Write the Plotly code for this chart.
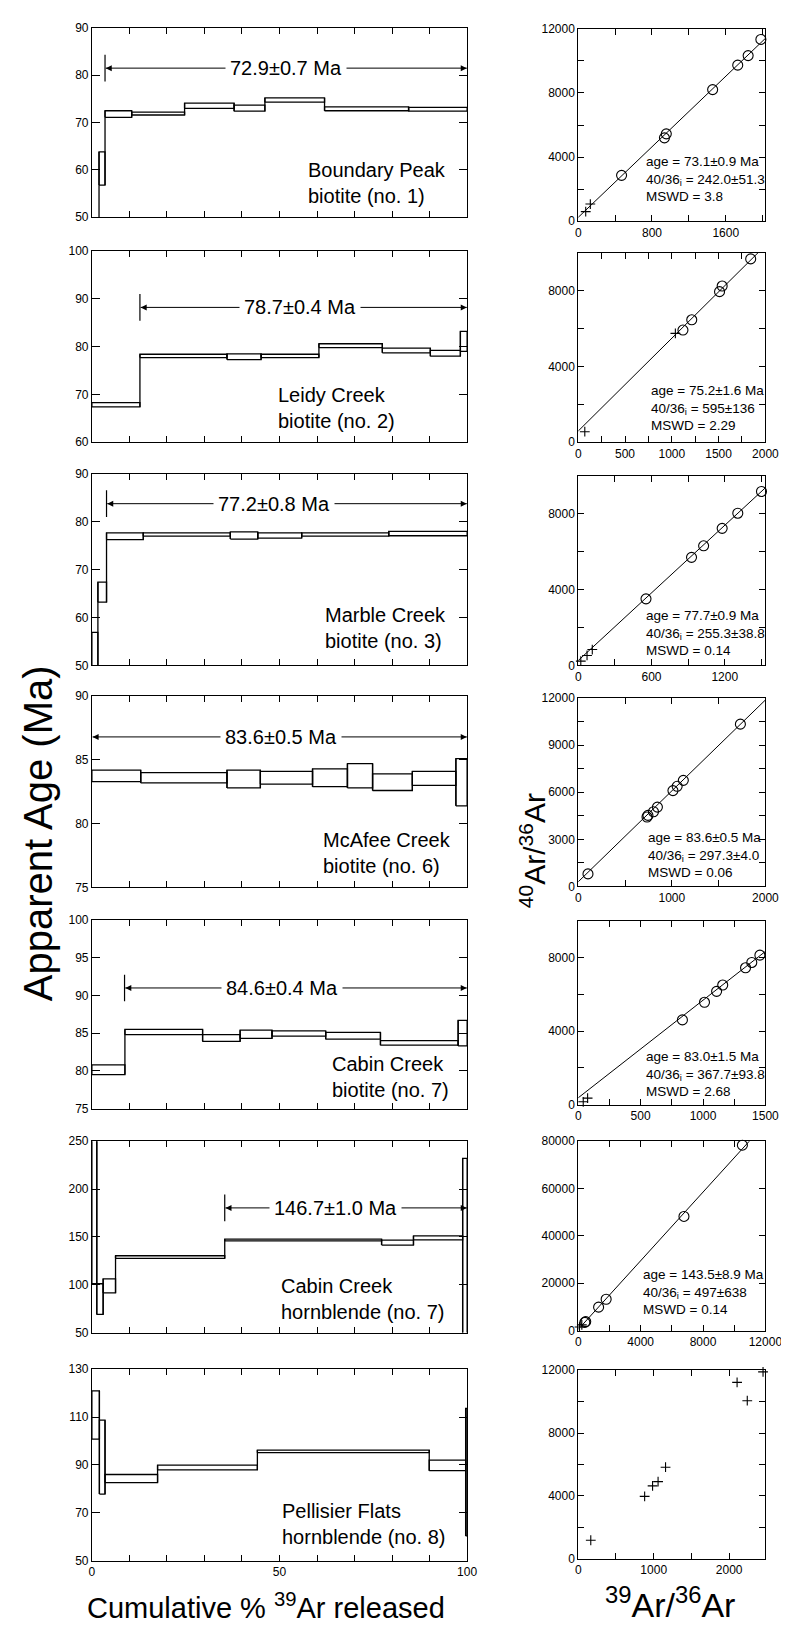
import plotly.graph_objects as go

FONT = "Liberation Sans, Arial, Helvetica, sans-serif"
W, H = 789, 1627

# ---------------- Age spectra (cumulative % 39Ar, apparent age Ma) ----------------
spec1_edges = [0, 1.9, 3.5, 10.6, 24.7, 37.9, 46.1, 62.0, 84.4, 100]
spec1_lo = [40, 56.8, 71.1, 71.6, 73.0, 72.4, 74.3, 72.5, 72.4]
spec1_hi = [45, 63.8, 72.5, 72.2, 74.1, 73.7, 75.2, 73.3, 73.2]

spec2_edges = [0, 12.8, 36.0, 45.1, 60.5, 77.4, 90.2, 98.2, 100]
spec2_lo = [67.4, 77.7, 77.3, 77.7, 79.8, 78.7, 78.0, 79.0]
spec2_hi = [68.3, 78.4, 78.5, 78.4, 80.6, 79.7, 79.2, 83.2]

spec3_edges = [0, 1.6, 3.9, 13.7, 36.9, 44.2, 55.9, 79.1, 100]
spec3_lo = [43.0, 63.2, 76.3, 77.0, 76.4, 76.6, 77.0, 77.1]
spec3_hi = [56.9, 67.4, 77.7, 77.7, 77.9, 77.7, 77.7, 78.0]

spec4_edges = [0, 13.0, 36.0, 44.9, 58.8, 68.1, 74.8, 85.4, 97.0, 100]
spec4_lo = [83.3, 83.2, 82.8, 83.1, 82.9, 82.8, 82.6, 83.0, 81.4]
spec4_hi = [84.2, 84.0, 84.2, 84.1, 84.3, 84.7, 83.9, 84.1, 85.1]

spec5_edges = [0, 8.8, 29.5, 39.5, 48.0, 62.3, 76.9, 97.6, 100]
spec5_lo = [79.5, 84.8, 83.9, 84.3, 84.6, 84.2, 83.4, 83.3]
spec5_hi = [80.8, 85.5, 84.8, 85.4, 85.3, 85.1, 84.0, 86.7]

spec6_edges = [0, 1.3, 3.0, 6.3, 35.4, 77.2, 85.7, 98.8, 100]
spec6_lo = [101.0, 69.0, 91.4, 127.6, 145.9, 141.4, 146.9, 40.0]
spec6_hi = [300.0, 101.0, 106.2, 130.3, 147.6, 146.6, 151.0, 232.0]

spec7_edges = [0, 2.0, 3.5, 17.5, 44.1, 89.9, 99.6, 100]
spec7_lo = [100.8, 77.8, 82.6, 87.9, 95.1, 87.6, 60.3]
spec7_hi = [121.0, 108.7, 86.0, 89.9, 96.2, 92.0, 113.6]

spec_ranges = [(50, 90), (60, 100), (50, 90), (75, 90), (75, 100), (50, 250), (50, 130)]
spec_dticks = [10, 10, 10, 5, 5, 50, 20]

sample_names = ["Boundary Peak<br>biotite (no. 1)",
                "Leidy Creek<br>biotite (no. 2)",
                "Marble Creek<br>biotite (no. 3)",
                "McAfee Creek<br>biotite (no. 6)",
                "Cabin Creek<br>biotite (no. 7)",
                "Cabin Creek<br>hornblende (no. 7)",
                "Pellisier Flats<br>hornblende (no. 8)"]

plateau_start = [3.5, 12.8, 3.9, 0.0, 8.7, 35.4, None]
plateau_y = [81.5, 88.2, 83.8, 86.8, 91.0, 180.3, None]
plateau_text = ["72.9±0.7 Ma", "78.7±0.4 Ma", "77.2±0.8 Ma", "83.6±0.5 Ma",
                "84.6±0.4 Ma", "146.7±1.0 Ma", None]
plateau_text_x = [51.6, 55.5, 48.4, 50.3, 50.7, 65.0, None]

# ---------------- Isochrons (39Ar/36Ar vs 40Ar/36Ar) ----------------
iso1_cx = [470, 935, 955, 1458, 1730, 1843, 1981]
iso1_cy = [2860, 5200, 5450, 8213, 9736, 10333, 11342]
iso1_px = [81, 131]
iso1_py = [600, 1070]

iso2_cx = [1119, 1213, 1510, 1538, 1843]
iso2_cy = [5927, 6469, 7955, 8252, 9685]
iso2_px = [70, 1038]
iso2_py = [560, 5752]

iso3_cx = [555, 928, 1027, 1179, 1307, 1501]
iso3_cy = [3513, 5704, 6313, 7235, 8035, 9183]
iso3_px = [21, 72, 115]
iso3_py = [226, 522, 835]

iso4_cx = [104, 735, 745, 804, 846, 1012, 1057, 1123, 1733]
iso4_cy = [800, 4421, 4526, 4758, 5053, 6105, 6379, 6758, 10337]
iso4_px = []
iso4_py = []

iso5_cx = [835, 1012, 1109, 1158, 1341, 1391, 1456]
iso5_cy = [4615, 5575, 6172, 6516, 7457, 7747, 8145]
iso5_px = [40, 75]
iso5_py = [150, 350]

iso6_cx = [421, 480, 1305, 1789, 6779, 10526]
iso6_cy = [3484, 3800, 9895, 13240, 48223, 78327]
iso6_px = [80, 230]
iso6_py = [1500, 2400]

iso7_cx = []
iso7_cy = []
iso7_px = [166, 880, 985, 1058, 1157, 2105, 2240, 2449]
iso7_py = [1169, 3965, 4633, 4904, 5822, 11227, 10058, 11895]

iso_intercept = [242.0, 595.0, 255.3, 297.3, 367.7, 497.0, None]
iso_slope = [5.5, 4.9, 5.95, 5.79, 5.32, 7.25, None]

iso_xrange = [2030, 2000, 1533, 2000, 1500, 12000, 2480]
iso_yrange = [12000, 10000, 10000, 12000, 10000, 80000, 12000]
iso_xminor = [400, 250, 300, 500, 250, 2000, 500]
iso_xmajor = [800, 500, 600, 1000, 500, 4000, 1000]
iso_yminor = [2000, 2000, 2000, 1500, 2000, 20000, 2000]
iso_ymajor = [4000, 4000, 4000, 3000, 4000, 20000, 4000]

iso_text = ["age = 73.1±0.9 Ma<br>40/36<sub>i</sub> = 242.0±51.3<br>MSWD = 3.8",
            "age = 75.2±1.6 Ma<br>40/36<sub>i</sub> = 595±136<br>MSWD = 2.29",
            "age = 77.7±0.9 Ma<br>40/36<sub>i</sub> = 255.3±38.8<br>MSWD = 0.14",
            "age = 83.6±0.5 Ma<br>40/36<sub>i</sub> = 297.3±4.0<br>MSWD = 0.06",
            "age = 83.0±1.5 Ma<br>40/36<sub>i</sub> = 367.7±93.8<br>MSWD = 2.68",
            "age = 143.5±8.9 Ma<br>40/36<sub>i</sub> = 497±638<br>MSWD = 0.14",
            None]

spectra = [(spec1_edges, spec1_lo, spec1_hi), (spec2_edges, spec2_lo, spec2_hi),
           (spec3_edges, spec3_lo, spec3_hi), (spec4_edges, spec4_lo, spec4_hi),
           (spec5_edges, spec5_lo, spec5_hi), (spec6_edges, spec6_lo, spec6_hi),
           (spec7_edges, spec7_lo, spec7_hi)]
isos = [(iso1_cx, iso1_cy, iso1_px, iso1_py), (iso2_cx, iso2_cy, iso2_px, iso2_py),
        (iso3_cx, iso3_cy, iso3_px, iso3_py), (iso4_cx, iso4_cy, iso4_px, iso4_py),
        (iso5_cx, iso5_cy, iso5_px, iso5_py), (iso6_cx, iso6_cy, iso6_px, iso6_py),
        (iso7_cx, iso7_cy, iso7_px, iso7_py)]

# ---------------- layout geometry (pixels) ----------------
L_X = (83, 468)
R_X = (582, 774)
L_TOP = [13, 238, 463, 687, 913, 1136, 1366]
L_BOT = [204, 431, 656, 880, 1103, 1329, 1559]
R_TOP = [14, 240, 465, 689, 914, 1136, 1367]
R_BOT = [208, 431, 656, 879, 1099, 1327, 1557]
name_pos = [(0.571, 0.183), (0.49, 0.181), (0.616, 0.194), (0.61, 0.181),
            (0.634, 0.168), (0.499, 0.174), (0.50, 0.19)]
iso_text_pos = [(0.35, 0.077), (0.38, 0.037), (0.354, 0.03), (0.36, 0.026),
                (0.35, 0.02), (0.333, 0.06)]


def xd(px):
    return px / W


def yd(px):
    return 1 - px / H


def sfx(n):
    return "" if n == 1 else str(n)


def spectrum_path(edges, lo, hi):
    xs, ys = [], []
    n = len(lo)
    for i in range(n):
        x0, x1 = edges[i], edges[i + 1]
        xs += [x0, x1, x1, x0, x0, None]
        ys += [lo[i], lo[i], hi[i], hi[i], lo[i], None]
        if i < n - 1:
            xs += [x1, x1, None]
            ys += [min(lo[i], lo[i + 1]), max(hi[i], hi[i + 1]), None]
    return xs, ys


fig = go.Figure()
layout = dict(width=W, height=H, margin=dict(l=0, r=0, t=0, b=0),
              paper_bgcolor="white", plot_bgcolor="white", showlegend=False,
              font=dict(family=FONT, color="black"))
annotations = []
shapes = []

axis_common = dict(showline=True, linecolor="black", linewidth=1, mirror="ticks",
                   ticks="inside", tickcolor="black", tickwidth=1, showgrid=False,
                   zeroline=False, tickfont=dict(size=12, family=FONT, color="black"),
                   fixedrange=True)


def minor(vals, ln):
    return dict(tickvals=vals, ticks="inside", ticklen=ln, tickcolor="black",
                tickwidth=1, showgrid=False)


for i in range(7):
    # ---- left: spectrum ----
    nL = 2 * i + 1
    nR = 2 * i + 2
    xa, ya = "x" + sfx(nL), "y" + sfx(nL)
    edges, lo, hi = spectra[i]
    xs, ys = spectrum_path(edges, lo, hi)
    fig.add_trace(go.Scatter(x=xs, y=ys, mode="lines", line=dict(color="black", width=1.3),
                             xaxis=xa, yaxis=ya, hoverinfo="skip"))
    ymin, ymax = spec_ranges[i]
    if i == 6:
        xax = dict(tickvals=[0, 50, 100], ticktext=["0", "50", "100"], showticklabels=True,
                   minor=minor([10, 20, 30, 40, 60, 70, 80, 90], 6))
    else:
        xax = dict(tickvals=list(range(0, 101, 10)), showticklabels=False)
    layout["xaxis" + sfx(nL)] = dict(axis_common, domain=[xd(L_X[0]), xd(L_X[1])], range=[0, 100],
                                     anchor=ya, ticklen=6, **xax)
    yt = list(range(int(ymin), int(ymax) + 1, spec_dticks[i]))
    layout["yaxis" + sfx(nL)] = dict(axis_common, domain=[yd(L_BOT[i]), yd(L_TOP[i])],
                                     range=[ymin, ymax], anchor=xa, tickvals=yt,
                                     ticktext=[str(v) for v in yt], ticklen=8)
    # sample name
    nx, ny = name_pos[i]
    annotations.append(dict(text=sample_names[i], xref=f"{xa} domain", yref=f"{ya} domain",
                            x=nx, y=ny, xanchor="left", yanchor="middle", align="left",
                            showarrow=False, font=dict(size=20, family=FONT, color="black")))
    # plateau
    if plateau_start[i] is not None:
        span = ymax - ymin
        py = plateau_y[i]
        ps = plateau_start[i]
        tx = plateau_text_x[i]
        if ps > 0:
            shapes.append(dict(type="line", xref=xa, yref=ya, x0=ps, x1=ps,
                               y0=py - 0.07 * span, y1=py + 0.07 * span,
                               line=dict(color="black", width=1.2)))
        fig.add_trace(go.Scatter(x=[ps + 0.2, 99.9], y=[py, py], mode="lines",
                                 line=dict(color="black", width=1), xaxis=xa, yaxis=ya,
                                 hoverinfo="skip"))
        fig.add_trace(go.Scatter(x=[ps + 0.2, 99.9], y=[py, py], mode="markers",
                                 marker=dict(symbol=["arrow-left", "arrow-right"], size=6,
                                             color="black", line=dict(width=0)),
                                 xaxis=xa, yaxis=ya, cliponaxis=False, hoverinfo="skip"))
        annotations.append(dict(text=plateau_text[i], xref=xa, yref=ya, x=tx, y=py,
                                showarrow=False, bgcolor="white", borderpad=4,
                                xanchor="center", yanchor="middle",
                                font=dict(size=20, family=FONT, color="black")))

    # ---- right: isochron ----
    xb, yb = "x" + sfx(nR), "y" + sfx(nR)
    cx, cy, px, pyy = isos[i]
    xmax = iso_xrange[i]
    if iso_intercept[i] is not None:
        b, m = iso_intercept[i], iso_slope[i]
        fig.add_trace(go.Scatter(x=[0, xmax], y=[b, b + m * xmax], mode="lines",
                                 line=dict(color="black", width=1), xaxis=xb, yaxis=yb,
                                 hoverinfo="skip"))
    if cx:
        fig.add_trace(go.Scatter(x=cx, y=cy, mode="markers",
                                 marker=dict(symbol="circle-open", size=10, color="black",
                                             line=dict(width=1.1, color="black")),
                                 xaxis=xb, yaxis=yb, cliponaxis=False, hoverinfo="skip"))
    if px:
        fig.add_trace(go.Scatter(x=px, y=pyy, mode="markers",
                                 marker=dict(symbol="cross-thin-open", size=7, color="black",
                                             line=dict(width=1.1, color="black")),
                                 xaxis=xb, yaxis=yb, cliponaxis=False, hoverinfo="skip"))
    xall = list(range(0, xmax + 1, iso_xminor[i]))
    xmaj = [v for v in xall if v % iso_xmajor[i] == 0]
    xmin_ = [v for v in xall if v % iso_xmajor[i] != 0]
    ymx = iso_yrange[i]
    yall = list(range(0, ymx + 1, iso_yminor[i]))
    ymaj = [v for v in yall if v % iso_ymajor[i] == 0]
    ymin_ = [v for v in yall if v % iso_ymajor[i] != 0]
    layout["xaxis" + sfx(nR)] = dict(axis_common, domain=[xd(R_X[0]), xd(R_X[1])], range=[0, xmax],
                                     anchor=yb, tickvals=xmaj, ticktext=[str(v) for v in xmaj],
                                     ticklen=6, minor=minor(xmin_, 6))
    layout["yaxis" + sfx(nR)] = dict(axis_common, domain=[yd(R_BOT[i]), yd(R_TOP[i])],
                                     range=[0, ymx], anchor=xb, tickvals=ymaj,
                                     ticktext=[str(v) for v in ymaj], ticklen=6,
                                     minor=minor(ymin_, 6))
    if iso_text[i] is not None:
        tx_, ty_ = iso_text_pos[i]
        annotations.append(dict(text=iso_text[i], xref=f"{xb} domain", yref=f"{yb} domain",
                                x=tx_, y=ty_, xanchor="left", yanchor="bottom", align="left",
                                showarrow=False, font=dict(size=13.5, family=FONT, color="black")))

# ---- global axis titles ----
annotations.append(dict(text="Apparent Age (Ma)", xref="paper", yref="paper",
                        x=xd(28), y=yd(825), textangle=-90, showarrow=False,
                        xanchor="center", yanchor="middle",
                        font=dict(size=40, family=FONT, color="black")))
annotations.append(dict(text="Cumulative % <sup>39</sup>Ar released", xref="paper", yref="paper",
                        x=xd(262), y=yd(1625), showarrow=False, xanchor="center", yanchor="bottom",
                        font=dict(size=29, family=FONT, color="black")))
annotations.append(dict(text="<sup>40</sup>Ar/<sup>36</sup>Ar", xref="paper", yref="paper",
                        x=xd(535), y=yd(843), textangle=-90, showarrow=False,
                        xanchor="center", yanchor="middle",
                        font=dict(size=30, family=FONT, color="black")))
annotations.append(dict(text="<sup>39</sup>Ar/<sup>36</sup>Ar", xref="paper", yref="paper",
                        x=xd(676), y=yd(1625), showarrow=False, xanchor="center", yanchor="bottom",
                        font=dict(size=34, family=FONT, color="black")))

layout["annotations"] = annotations
layout["shapes"] = shapes
fig.update_layout(**layout)
fig.write_html("out.html")
